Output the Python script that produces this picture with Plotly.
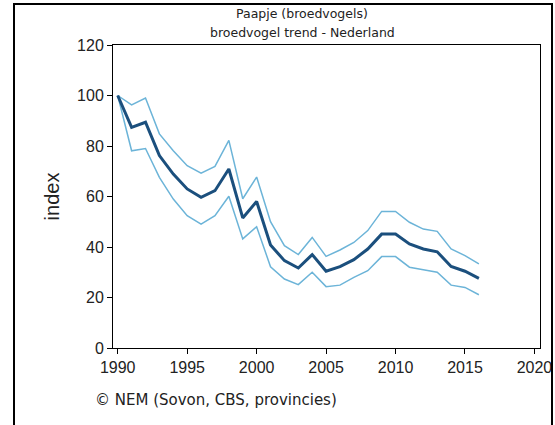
import plotly.graph_objects as go

years = list(range(1990, 2017))
index = [100, 87.4, 89.4, 76.2, 68.9, 63.0, 59.7, 62.3, 70.9, 51.5, 58.0,
         40.8, 34.6, 31.7, 37.0, 30.4, 32.2, 35.0, 39.2, 45.1, 45.1,
         41.2, 39.2, 38.1, 32.3, 30.4, 27.6]
upper = [100, 96.3, 99.0, 84.8, 78.1, 72.2, 69.2, 71.9, 82.2, 59.1, 67.7,
         50.0, 40.5, 37.0, 43.8, 36.3, 38.8, 41.8, 46.5, 54.1, 54.1,
         49.8, 47.1, 46.2, 39.2, 36.6, 33.3]
lower = [100, 78.1, 79.0, 67.6, 59.0, 52.4, 49.1, 52.4, 60.1, 43.2, 48.0,
         32.2, 27.3, 25.1, 30.0, 24.3, 24.9, 28.0, 30.6, 36.2, 36.2,
         32.0, 31.0, 30.0, 24.9, 24.0, 21.1]

light = "#6cb4d8"
dark = "#1b4f7d"

fig = go.Figure()
fig.add_scatter(x=years, y=upper, mode="lines", line=dict(color=light, width=1.5))
fig.add_scatter(x=years, y=lower, mode="lines", line=dict(color=light, width=1.5))
fig.add_scatter(x=years, y=index, mode="lines", line=dict(color=dark, width=3))

axis_common = dict(showgrid=False, zeroline=False, showline=True, linecolor="black",
                   linewidth=1, mirror=True, ticks="outside", ticklen=5, automargin=False,
                   tickcolor="black", tickfont=dict(family="Liberation Sans", size=16, color="#222"))

# plot area in pixels: x 113..540, y 45..348
fig.update_layout(
    width=555, height=425,
    margin=dict(l=113, r=15, t=45, b=77),
    paper_bgcolor="white", plot_bgcolor="white",
    showlegend=False,
    xaxis=dict(range=[1989.66, 2020.4], tickvals=[1990, 1995, 2000, 2005, 2010, 2015, 2020],
               **axis_common),
    yaxis=dict(range=[0, 120], tickvals=[0, 20, 40, 60, 80, 100, 120],
               title=dict(text="index", font=dict(family="Liberation Sans", size=20, color="#222"),
                          standoff=12),
               **axis_common),
    annotations=[
        dict(text="Paapje (broedvogels)",
             xref="paper", yref="paper", x=0.443, y=(348 - 14) / 303,
             xanchor="center", yanchor="middle", showarrow=False,
             font=dict(family="DejaVu Sans", size=12.5, color="#222")),
        dict(text="broedvogel trend - Nederland",
             xref="paper", yref="paper", x=0.443, y=(348 - 33) / 303,
             xanchor="center", yanchor="middle", showarrow=False,
             font=dict(family="DejaVu Sans", size=12.5, color="#222")),
        dict(text="© NEM (Sovon, CBS, provincies)",
             xref="paper", yref="paper", x=(93 - 113) / 427, y=(348 - 400) / 303,
             xanchor="left", yanchor="middle", showarrow=False,
             font=dict(family="DejaVu Sans", size=15, color="#222")),
    ],
    shapes=[
        dict(type="rect", xref="paper", yref="paper",
             x0=(14 - 113) / 427, x1=(552 - 113) / 427,
             y0=(348 - 440) / 303, y1=(348 - 4) / 303,
             line=dict(color="black", width=2), layer="above"),
    ],
)

fig.write_html(
    "out.html",
    config={"displayModeBar": False},
    post_script=(
        "document.documentElement.style.margin='0';"
        "document.documentElement.style.overflow='hidden';"
        "document.body.style.margin='0';"
        "document.body.style.overflow='hidden';"
        "window.scrollTo(0,0);"
    ),
)
